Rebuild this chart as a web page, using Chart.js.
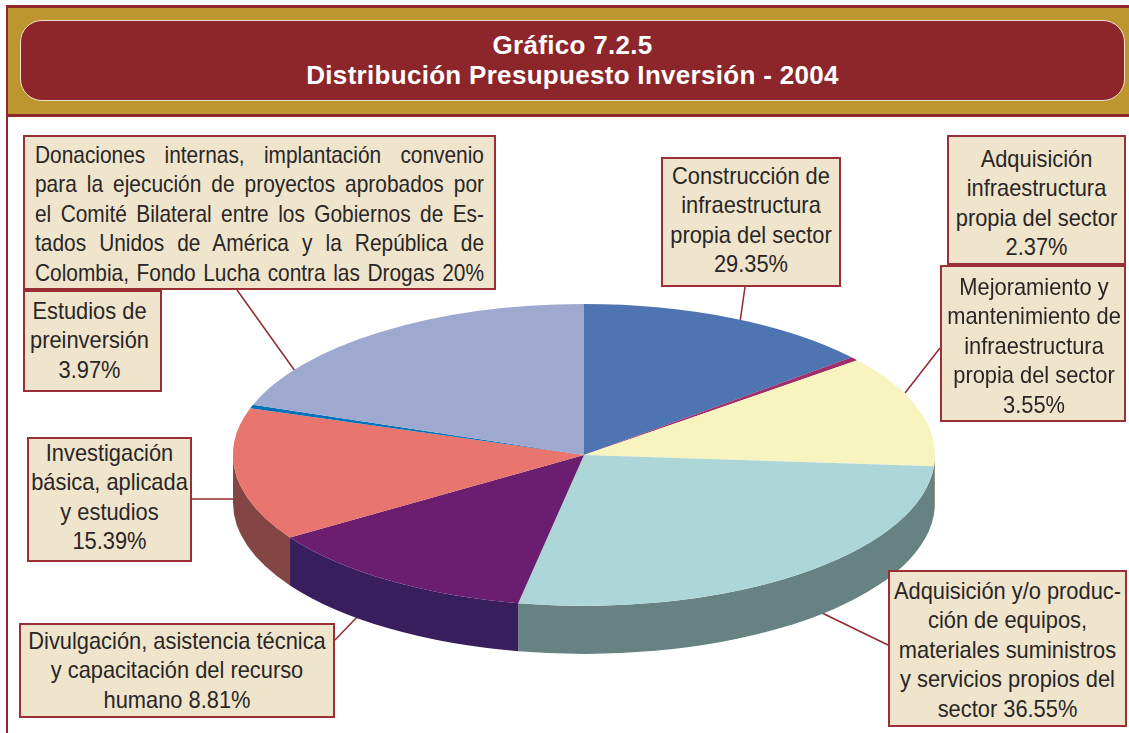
<!DOCTYPE html>
<html lang="es">
<head>
  <meta charset="utf-8">
  <title>Gráfico 7.2.5</title>
  <script src="https://cdn.jsdelivr.net/npm/chart.js"></script>
  <style>
    html, body { margin: 0; padding: 0; background: #fff; width: 1129px; height: 733px; overflow: hidden; }
    body { position: relative; font-family: "Liberation Sans", Arial, sans-serif; }
    canvas { position: absolute; left: 0; top: 0; }
    .band { position: absolute; left: 6px; top: 5px; width: 1123px; height: 106px; background: #BE9630;
            border-top: 3px solid #8E262B; border-bottom: 3px solid #8E262B; border-left: 2px solid #8E262B; box-sizing: content-box; }
    .edge { position: absolute; left: 6px; top: 116px; width: 2px; height: 617px; background: #8E262B; }
    .pill { position: absolute; left: 20px; top: 20px; width: 1105px; height: 81px; box-sizing: border-box; background: #8C262B;
            border: 1px solid #EFE0D0; border-radius: 22px; color: #fff; font-weight: bold; font-size: 26px; line-height: 30px;
            text-align: center; padding-top: 9px; letter-spacing: 0.3px; }
    .box { position: absolute; box-sizing: border-box; background: #EFE4CC; border: 2px solid #9C2F36; color: #2A2626; overflow: hidden; }
    .box .txt { transform-origin: left top; font-size: 24px; line-height: 29.4px; text-align: center; white-space: nowrap; }
    .box.just .txt { white-space: normal; }
    .box.just .txt div { text-align: justify; text-align-last: justify; }
  </style>
</head>
<body>
  <canvas id="pie" width="1129" height="733"></canvas>
  <div class="band"></div>
  <div class="edge"></div>
  <div class="pill" id="title"></div>
  <div id="boxes"></div>

  <script>
    const titleLines = ['Gráfico 7.2.5', 'Distribución Presupuesto Inversión - 2004'];

    // clockwise from 12 o'clock, share of the circle
    const categories = [
      'Construcción de infraestructura propia del sector',
      'Adquisición infraestructura propia del sector',
      'Mejoramiento y mantenimiento de infraestructura propia del sector',
      'Adquisición y/o producción de equipos, materiales suministros y servicios propios del sector',
      'Divulgación, asistencia técnica y capacitación del recurso humano',
      'Investigación básica, aplicada y estudios',
      'Estudios de preinversión',
      'Donaciones internas'
    ];
    const sliceShares = [13.8, 0.4, 12.0, 26.8, 12.8, 14.2, 0.4, 19.6];
    const topColors = ['#4E74B1', '#9E2F6B', '#F8F4C0', '#ADD6D8', '#6B1D70', '#E8756E', '#0070B8', '#9FA9D0'];
    const sideColors = ['#2F466B', '#5F1C40', '#95927A', '#668282', '#381E5C', '#844545', '#00436E', '#5F657D'];

    // callout boxes: [left, top, right, bottom, paddingTop, scaleX, inset, justified]
    const boxLayout = [
      [661, 157, 841, 287, 2, 0.91, 0, false],
      [947, 135, 1126, 265, 7, 0.91, 0, false],
      [940, 265, 1126, 422, 5, 0.91, 1, false],
      [888, 570, 1127, 727, 4, 0.91, 0, false],
      [19, 623, 335, 718, 1, 0.91, 0, false],
      [27, 437, 192, 562, -1, 0.91, 0, false],
      [23, 290, 162, 392, 4, 0.91, -3, false],
      [23, 135, 496, 290, 3, 0.87, 10, true]
    ];
    const boxLines = [
      ['Construcción de', 'infraestructura', 'propia del sector', '29.35%'],
      ['Adquisición', 'infraestructura', 'propia del sector', '2.37%'],
      ['Mejoramiento y', 'mantenimiento de', 'infraestructura', 'propia del sector', '3.55%'],
      ['Adquisición y/o produc-', 'ción de equipos,', 'materiales suministros', 'y servicios propios del', 'sector 36.55%'],
      ['Divulgación, asistencia técnica', 'y capacitación del recurso', 'humano 8.81%'],
      ['Investigación', 'básica, aplicada', 'y estudios', '15.39%'],
      ['Estudios de', 'preinversión', '3.97%'],
      ['Donaciones internas, implantación convenio', 'para la ejecución de proyectos aprobados por',
       'el Comité Bilateral entre los Gobiernos de Es-', 'tados Unidos de América y la República de',
       'Colombia, Fondo Lucha contra las Drogas 20%']
    ];
    const leaderLines = [
      [745, 287, 740, 322],
      [940, 348, 905, 393],
      [888, 645, 820, 612],
      [335, 640, 360, 614],
      [192, 499, 233, 499],
      [237, 290, 295, 371]
    ];

    // pie placement on the page
    const pieX = 584, pieY = 455, pieRadius = 351, squash = 0.43, depth = 48;

    document.getElementById('title').innerHTML = titleLines.map(t => '<div>' + t + '</div>').join('');

    const boxesEl = document.getElementById('boxes');
    boxLayout.forEach(([l, t, r, b, pad, sx, inset, just], i) => {
      const box = document.createElement('div');
      box.className = 'box' + (just ? ' just' : '');
      box.style.cssText = `left:${l}px;top:${t}px;width:${r - l}px;height:${b - t}px`;
      const txt = document.createElement('div');
      txt.className = 'txt';
      const inner = r - l - 4 - (just ? inset * 2 : 0);
      txt.style.cssText = `width:${inner / sx}px;margin-left:${inset}px;margin-top:${pad}px;transform:scaleX(${sx})`;
      boxLines[i].forEach(line => {
        const d = document.createElement('div');
        d.textContent = line;
        txt.appendChild(d);
      });
      box.appendChild(txt);
      boxesEl.appendChild(box);
    });

    // extrudes the pie and squashes it into an ellipse
    const pie3d = {
      id: 'pie3d',
      beforeDatasetsDraw(chart) {
        const ctx = chart.ctx;
        const arcs = chart.getDatasetMeta(0).data;

        ctx.save();
        ctx.strokeStyle = '#8E2A2E';
        ctx.lineWidth = 1.5;
        leaderLines.forEach(([x1, y1, x2, y2]) => {
          ctx.beginPath();
          ctx.moveTo(x1, y1);
          ctx.lineTo(x2, y2);
          ctx.stroke();
        });
        ctx.restore();

        // only the front half of the wall shows
        arcs.forEach((arc, i) => {
          const a0 = Math.max(arc.startAngle, 0);
          const a1 = Math.min(arc.endAngle, Math.PI);
          if (a1 <= a0) return;
          const rx = arc.outerRadius, ry = rx * squash;
          ctx.beginPath();
          ctx.ellipse(pieX, pieY, rx, ry, 0, a0, a1);
          ctx.ellipse(pieX, pieY + depth, rx, ry, 0, a1, a0, true);
          ctx.closePath();
          ctx.fillStyle = sideColors[i];
          ctx.fill();
        });

        ctx.save();
        ctx.translate(pieX, pieY);
        ctx.scale(1, squash);
        ctx.translate(-arcs[0].x, -arcs[0].y);
      },
      afterDatasetsDraw(chart) {
        chart.ctx.restore();
      }
    };

    new Chart(document.getElementById('pie'), {
      type: 'pie',
      data: {
        labels: categories,
        datasets: [{
          data: sliceShares,
          backgroundColor: topColors,
          borderWidth: 0,
          clip: false
        }]
      },
      options: {
        responsive: false,
        animation: false,
        radius: pieRadius,
        layout: { padding: 0 },
        plugins: { legend: { display: false }, tooltip: { enabled: false } }
      },
      plugins: [pie3d]
    });
  </script>
</body>
</html>
